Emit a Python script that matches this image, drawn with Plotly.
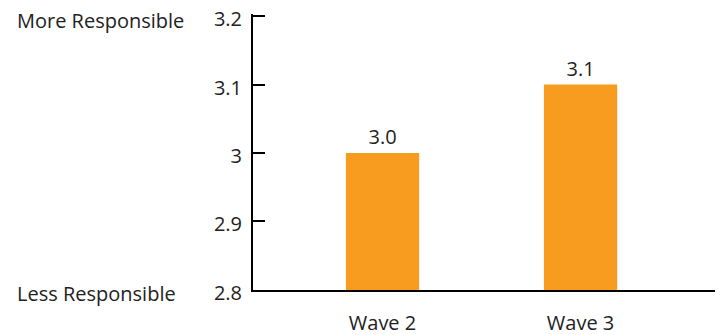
import plotly.graph_objects as go

categories = ["Wave 2", "Wave 3"]
values = [3.0, 3.1]
value_labels = ["3.0", "3.1"]
y_tickvals = [2.8, 2.9, 3.0, 3.1, 3.2]
y_ticktext = ["2.8", "2.9", "3", "3.1", "3.2"]

FONT = "Open Sans, Noto Sans, sans-serif"
FS = 20
ORANGE = "#F89C20"
TXT = "#222"

fig = go.Figure(go.Bar(
    x=categories, y=values, width=0.37,
    marker=dict(color=ORANGE, line=dict(width=0)),
    text=value_labels, textposition="outside", cliponaxis=False,
    textfont=dict(family=FONT, size=FS, color=TXT),
))

# page is rendered with an 8px body margin, so the figure is sized/offset to compensate
fig.update_layout(
    width=715, height=327,
    margin=dict(l=245, r=5, t=6, b=45, autoexpand=False),
    paper_bgcolor="white", plot_bgcolor="white",
    showlegend=False,
    font=dict(family=FONT, size=FS, color=TXT),
    xaxis=dict(
        range=[-0.654, 1.694], showgrid=False, showline=True, automargin=False,
        linecolor="black", linewidth=2, ticks="",
        ticklabelstandoff=14, ticklabeloverflow="allow",
        tickfont=dict(family=FONT, size=FS, color=TXT),
    ),
    yaxis=dict(
        range=[2.7999, 3.203], showgrid=False, zeroline=False, showline=True,
        automargin=False,
        linecolor="black", linewidth=2,
        tickvals=y_tickvals, ticktext=y_ticktext,
        ticks="inside", ticklen=12, tickwidth=2, tickcolor="black",
        ticklabelstandoff=5, ticklabelshift=3, ticklabeloverflow="allow",
        tickfont=dict(family=FONT, size=FS, color=TXT),
    ),
    annotations=[
        dict(text="More Responsible", xref="paper", yref="y", x=-238/465, y=3.2,
             xanchor="left", yanchor="middle", showarrow=False, yshift=-4,
             font=dict(family=FONT, size=FS, color=TXT)),
        dict(text="Less Responsible", xref="paper", yref="y", x=-238/465, y=2.8,
             xanchor="left", yanchor="middle", showarrow=False, yshift=-4,
             font=dict(family=FONT, size=FS, color=TXT)),
    ],
)

fig.write_html("out.html")
